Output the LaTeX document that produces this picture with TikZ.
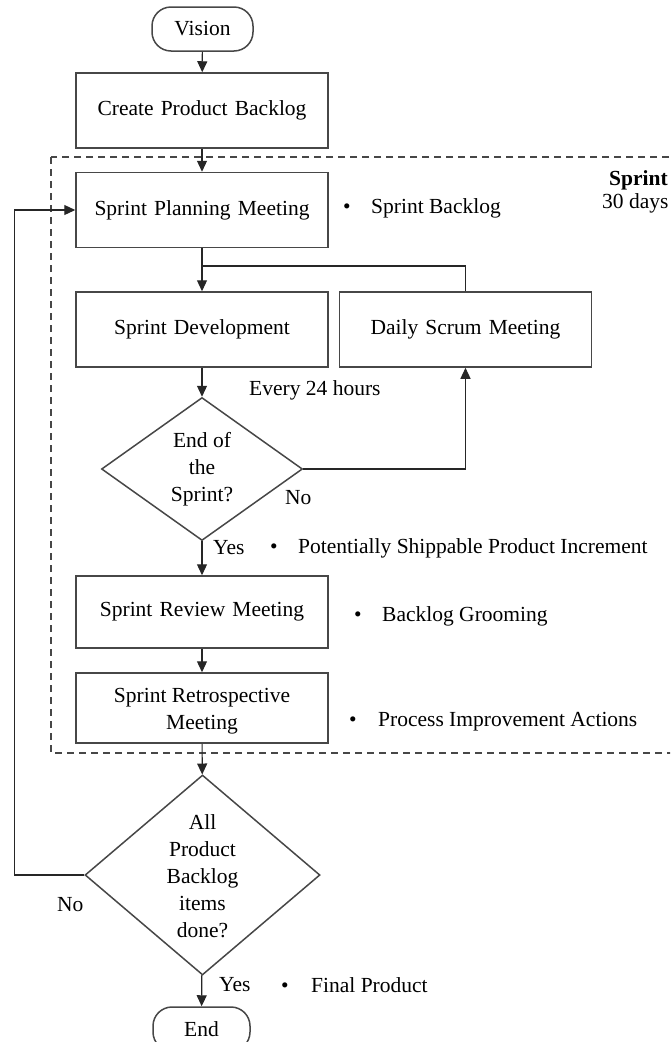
\documentclass[tikz,border=0pt]{standalone}
\usepackage{fontspec}
\setmainfont{Liberation Serif}
\usetikzlibrary{arrows.meta,shapes.geometric}
\newcommand\myfs{\fontsize{21.5}{27}\selectfont}
\begin{document}
\begin{tikzpicture}[x=1pt,y=-1pt,
  every node/.style={font=\myfs, inner sep=0pt},
  stepbox/.style={draw=black!72, line width=1.5pt, minimum width=252pt, minimum height=75pt, text width=244pt, align=center},
  term/.style={draw=black!72, line width=1.5pt, rounded corners=19pt, minimum width=101pt, minimum height=44pt},
  dec/.style={diamond, draw=black!72, line width=1.5pt},
  conn/.style={draw=black!85, line width=1.2pt},
  arr/.style={conn, -{Triangle[length=11pt,width=10pt]}},
  lbl/.style={anchor=west},
  bul/.style={anchor=west}
]
\useasboundingbox (0,0) rectangle (670,1042);
\clip (0,0) rectangle (670,1042);

% dashed sprint frame
\draw[draw=black!72, line width=1.3pt, dash pattern=on 7pt off 5pt] (51,157) rectangle (700,753);
\node[anchor=west, font=\myfs\bfseries] (sprintlbl) at (609,180) {Sprint};
\node[anchor=west] (dayslbl) at (602,203) {30 days};

% nodes
\node[term] (vision) at (202.5,29) {Vision};
\node[stepbox] (cpb) at (202,110.5) {Create Product Backlog};
\node[stepbox] (spm) at (202,210) {Sprint Planning Meeting};
\node[stepbox] (sd) at (202,329.5) {Sprint Development};
\node[stepbox] (dsm) at (465.5,329.5) {Daily Scrum Meeting};
\node[dec, minimum width=201pt, minimum height=143pt] (d1) at (202,469) {};
\node[align=center] (d1t) at (202,469) {End of\\the\\Sprint?};
\node[stepbox, minimum height=72pt] (srm) at (202,612) {Sprint Review Meeting};
\node[stepbox, minimum height=70pt] (retro) at (202,708) {};
\node[align=center] (retrot) at (202,711) {Sprint Retrospective\\Meeting};
\node[dec, minimum width=235pt, minimum height=200pt] (d2) at (202.5,875) {};
\node[align=center] (d2t) at (202.5,876) {All\\Product\\Backlog\\items\\done?};
\node[term, minimum width=97pt] (end) at (201.5,1029) {End};

% side labels
\node[bul] (b1) at (343,208) {\makebox[28pt][l]{\textbullet}Sprint Backlog};
\node[lbl] (every) at (249,390) {Every 24 hours};
\node[lbl] (no1) at (285,498) {No};
\node[lbl] (yes1) at (213,548) {Yes};
\node[bul] (b2) at (270,548) {\makebox[28pt][l]{\textbullet}Potentially Shippable Product Increment};
\node[bul] (b3) at (354,616) {\makebox[28pt][l]{\textbullet}Backlog Grooming};
\node[bul] (b4) at (349,722) {\makebox[29pt][l]{\textbullet}Process Improvement Actions};
\node[lbl] (no2) at (57,905) {No};
\node[lbl] (yes2) at (219,985) {Yes};
\node[bul] (b5) at (281,985) {\makebox[30pt][l]{\textbullet}Final Product};

% connectors
\coordinate (j) at (202,266);
\draw[arr] (vision) -- (cpb);
\draw[arr] (cpb) -- (spm);
\draw[arr] (spm) -- (sd);
\draw[conn] (dsm.north) |- (j);
\draw[arr] (sd) -- (d1);
\draw[arr] (d1.east) -| (dsm.south);
\draw[arr] (d1) -- (srm);
\draw[arr] (srm) -- (retro);
\draw[arr] (retro) -- (d2);
\draw[arr] (d2) -- (end);
\draw[arr] (d2.west) -- ++(-70,0) |- (spm.west);
\end{tikzpicture}
\end{document}
